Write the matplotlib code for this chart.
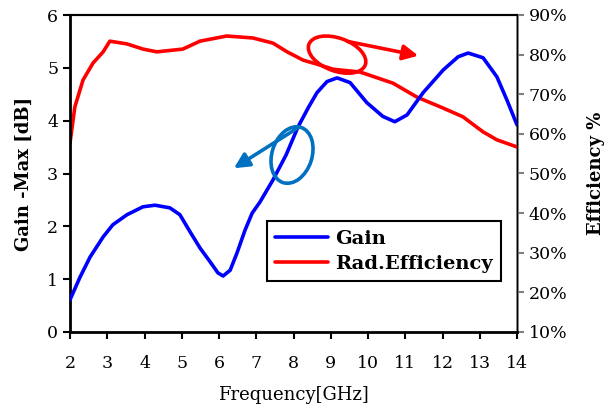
import matplotlib
matplotlib.use("Agg")
import matplotlib.pyplot as plt
from matplotlib.patches import Ellipse
from matplotlib.transforms import ScaledTranslation

plt.rcParams['font.family'] = ['DejaVu Serif']

# Gain data (GHz, dB)
gain_freq = [2.0, 2.27, 2.54, 2.89, 3.15, 3.53, 3.96, 4.28, 4.68, 4.95, 5.22, 5.49,
             5.76, 5.97, 6.11, 6.30, 6.48, 6.70, 6.89, 7.10, 7.45, 7.8, 8.12, 8.40,
             8.63, 8.90, 9.17, 9.52, 9.97, 10.4, 10.72, 11.05, 11.48, 12.02, 12.42,
             12.69, 13.09, 13.46, 13.73, 14.0]
gain_vals = [0.61, 1.04, 1.42, 1.80, 2.03, 2.22, 2.37, 2.40, 2.35, 2.22, 1.90, 1.59,
             1.33, 1.12, 1.06, 1.17, 1.49, 1.93, 2.25, 2.46, 2.88, 3.35, 3.88, 4.25,
             4.53, 4.74, 4.81, 4.72, 4.34, 4.08, 3.98, 4.11, 4.53, 4.96, 5.21,
             5.28, 5.19, 4.83, 4.39, 3.92]

# Radiation efficiency data (GHz, %)
eff_freq = [2.0, 2.13, 2.35, 2.62, 2.89, 3.07, 3.53, 3.96, 4.33, 5.03, 5.49, 6.21,
            6.91, 7.45, 7.83, 8.26, 8.63, 9.07, 9.79, 10.67, 11.31, 12.02, 12.55,
            13.09, 13.46, 14.0]
eff_vals = [57.7, 66.8, 73.6, 77.9, 80.7, 83.4, 82.7, 81.4, 80.7, 81.4, 83.4, 84.7,
            84.2, 82.9, 80.7, 78.6, 77.6, 76.3, 75.6, 72.8, 69.3, 66.5, 64.3,
            60.5, 58.5, 56.7]

x_ticks = list(range(2, 15))
gain_ticks = [0, 1, 2, 3, 4, 5, 6]
eff_ticks = [10, 20, 30, 40, 50, 60, 70, 80, 90]

fig = plt.figure(figsize=(6.11, 4.08), dpi=100)
ax = fig.add_axes([70/611, 1-332/408, 447/611, 317/408])
ax2 = ax.twinx()

l1, = ax.plot(gain_freq, gain_vals, color='#0000ff', lw=2.6, solid_capstyle='round', label='Gain', zorder=3)
l2, = ax2.plot(eff_freq, eff_vals, color='#ff0000', lw=2.6, solid_capstyle='round', label='Rad.Efficiency', zorder=3)

ax.set_xlim(2, 14)
ax.set_ylim(0, 6)
ax2.set_ylim(10, 90)
ax.set_xticks(x_ticks)
ax.set_yticks(gain_ticks)
ax2.set_yticks(eff_ticks)
ax2.set_yticklabels([f"{v}%" for v in eff_ticks])

fs = 12.5
ax.tick_params(axis='both', direction='out', length=5, width=1.5, labelsize=fs, colors='black')
ax.tick_params(axis='x', pad=11.5)
ax2.tick_params(axis='y', direction='out', length=5, width=1.5, labelsize=fs, color='#808080', labelcolor='black')

for s in ['left', 'bottom']:
    ax.spines[s].set_linewidth(2)
ax.spines['top'].set_linewidth(1.5)
ax2.spines['right'].set_color('#808080')
ax2.spines['right'].set_linewidth(2)
ax2.spines['top'].set_linewidth(1.5)
ax2.spines['left'].set_visible(False)
ax2.spines['bottom'].set_visible(False)

ax.set_xlabel('Frequency[GHz]', fontsize=13, labelpad=10)
ax.set_ylabel('Gain -Max [dB]', fontsize=13, fontweight='bold', labelpad=10)
ax2.set_ylabel('Efficiency %', fontsize=13, fontweight='bold', labelpad=14)

# Annotation ellipses and arrows
red_el = Ellipse((0, 0), 0.60, 0.33, angle=-20, fill=False, ec='#ff0000', lw=2.6,
                 transform=fig.dpi_scale_trans + ScaledTranslation(9.17, 5.25, ax.transData), zorder=4)
ax.add_patch(red_el)
blue_el = Ellipse((0, 0), 0.40, 0.58, angle=-18, fill=False, ec='#0070C0', lw=2.6,
                  transform=fig.dpi_scale_trans + ScaledTranslation(7.96, 3.35, ax.transData), zorder=4)
ax.add_patch(blue_el)

ax.annotate('', xy=(11.35, 5.23), xytext=(9.45, 5.50),
            arrowprops=dict(arrowstyle='-|>,head_length=0.9,head_width=0.45', color='#ff0000', lw=2.6,
                            shrinkA=0, shrinkB=0), zorder=4)
ax.annotate('', xy=(6.40, 3.10), xytext=(8.15, 3.88),
            arrowprops=dict(arrowstyle='-|>,head_length=0.9,head_width=0.45', color='#0070C0', lw=2.6,
                            shrinkA=0, shrinkB=0), zorder=4)

ax.set_zorder(ax2.get_zorder() + 1)
ax.patch.set_visible(False)

leg = ax.legend([l1, l2], ['Gain', 'Rad.Efficiency'], loc='upper left',
                bbox_to_anchor=(0.44, 0.35), borderaxespad=0, fancybox=False,
                edgecolor='black', framealpha=1, handlelength=2.7, handletextpad=0.35,
                prop={'weight': 'bold', 'size': 14}, borderpad=0.45, labelspacing=0.35)
leg.get_frame().set_linewidth(1.5)

fig.savefig('out.png', dpi=100)
